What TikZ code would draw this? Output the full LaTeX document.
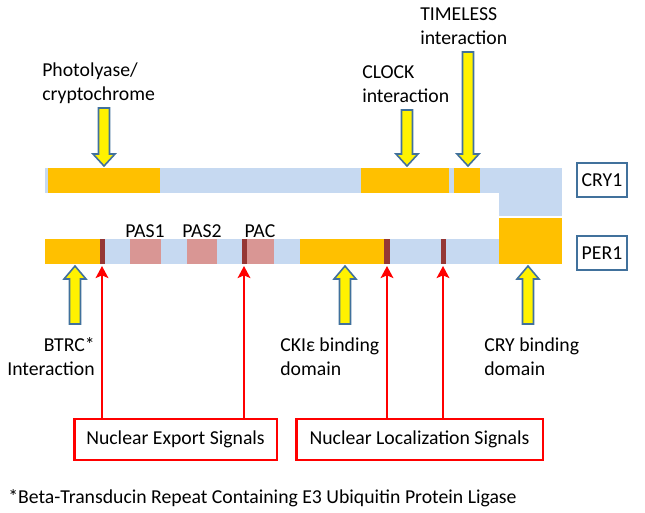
\documentclass[tikz,border=0pt]{standalone}
\usepackage{fontspec}
\setmainfont{Carlito}
\usepackage{xcolor}
\usepackage{tikz}
\usetikzlibrary{arrows.meta}
\definecolor{barBlue}{HTML}{C6D9F1}
\definecolor{barOrange}{HTML}{FFC000}
\definecolor{pasPink}{HTML}{D99694}
\definecolor{sigMark}{HTML}{953735}
\definecolor{edgeBlue}{HTML}{41719C}
\tikzset{
lbl/.style = {inner sep=0pt, font=\fontsize{14.8pt}{18pt}\selectfont}
}
\tikzset{
protBox/.style = {rectangle, draw=edgeBlue, line width=0.8pt,
                  minimum width=37.5pt, minimum height=25.5pt, lbl},
sigBox/.style = {rectangle, draw=red, fill=white, line width=2pt,
                 minimum width=#1, minimum height=30.75pt, lbl},
sigBox/.default = 150pt % width of the signal box
}
\tikzset{
sigArrow/.style = {draw=red, line width=2pt,
                   -{Stealth[length=9pt, width=9.5pt, inset=2pt]}},
yblock/.style = {fill=yellow, draw=edgeBlue, line width=1.2pt}
}
% block arrow: x, tail y, head base y, tip y
\newcommand{\blockArrow}[4]{%
  \draw[yblock] (#1-5.5,#2) -- (#1+5.5,#2) -- (#1+5.5,#3) -- (#1+11,#3)
     -- (#1,#4) -- (#1-11,#3) -- (#1-5.5,#3) -- cycle;}

\begin{document}
\begin{tikzpicture}[x=0.75pt, y=-0.75pt]
    \useasboundingbox (0,0) rectangle (645,512);
    % CRY1
    \fill[barBlue] (45,168) rectangle (562,193);
    \fill[barBlue] (499,193) rectangle (562,216);
    \fill[barOrange] (48,168) rectangle (160,193);
    \fill[barOrange] (361,168) rectangle (449,193);
    \fill[barOrange] (454,168) rectangle (480,193);
    % PER1
    \fill[barBlue] (45,239) rectangle (499,264);
    \fill[barOrange] (45,239) rectangle (99.5,264);
    \fill[barOrange] (300,239) rectangle (384,264);
    \fill[barOrange] (499,218) rectangle (562,264);
    \fill[pasPink] (130,239) rectangle (161,264);
    \fill[pasPink] (187,239) rectangle (217,264);
    \fill[pasPink] (247,239) rectangle (274,264);
    \fill[sigMark] (99.5,239) rectangle (105,264);
    \fill[sigMark] (241.5,239) rectangle (247,264);
    \fill[sigMark] (384,239) rectangle (390,264);
    \fill[sigMark] (440.5,239) rectangle (446,264);
    \node[lbl, anchor=base] (lblPas1) at (145,237) {PAS1};
    \node[lbl, anchor=base] (lblPas2) at (202,237) {PAS2};
    \node[lbl, anchor=base] (lblPac) at (260,237) {PAC};

    \node[protBox] (boxCry) at (602,180) {CRY1};
    \node[protBox] (boxPer) at (602,253) {PER1};

    % labels above and below
    \node[lbl, anchor=west, align=left] (lblPhoto) at (42,83.5) {Photolyase/\\cryptochrome};
    \node[lbl, anchor=west, align=left] (lblClock) at (362,84) {CLOCK\\interaction};
    \node[lbl, anchor=west, align=left] (lblTimeless) at (420,26) {TIMELESS\\interaction};
    \node[lbl, anchor=east, align=right] (lblBtrc) at (95,357) {BTRC*\\Interaction};
    \node[lbl, anchor=west, align=left] (lblCki) at (280,357) {CKIε binding\\domain};
    \node[lbl, anchor=west, align=left] (lblCryBind) at (484,357) {CRY binding\\domain};

    \blockArrow{104}{108}{154}{166}
    \blockArrow{407}{110}{154}{166}
    \blockArrow{468}{52}{154}{166}
    \blockArrow{75}{324}{279}{266}
    \blockArrow{345}{324}{279}{266}
    \blockArrow{528}{324}{279}{266}

    % signal boxes
    \coordinate (nesA) at (102,266);
    \coordinate (nesB) at (244,266);
    \coordinate (nlsA) at (387,266);
    \coordinate (nlsB) at (443,266);
    \node[sigBox=152pt] (boxNes) at (175.5,439.5) {Nuclear Export Signals};
    \node[sigBox=185pt] (boxNls) at (419.5,439.5) {Nuclear Localization Signals};
    \draw[sigArrow] (boxNes.north -| nesA) -- (nesA);
    \draw[sigArrow] (boxNes.north -| nesB) -- (nesB);
    \draw[sigArrow] (boxNls.north -| nlsA) -- (nlsA);
    \draw[sigArrow] (boxNls.north -| nlsB) -- (nlsB);

    \node[lbl, anchor=base west] (footNote) at (8,503) {*Beta-Transducin Repeat Containing E3 Ubiquitin Protein Ligase};
\end{tikzpicture}
\end{document}
